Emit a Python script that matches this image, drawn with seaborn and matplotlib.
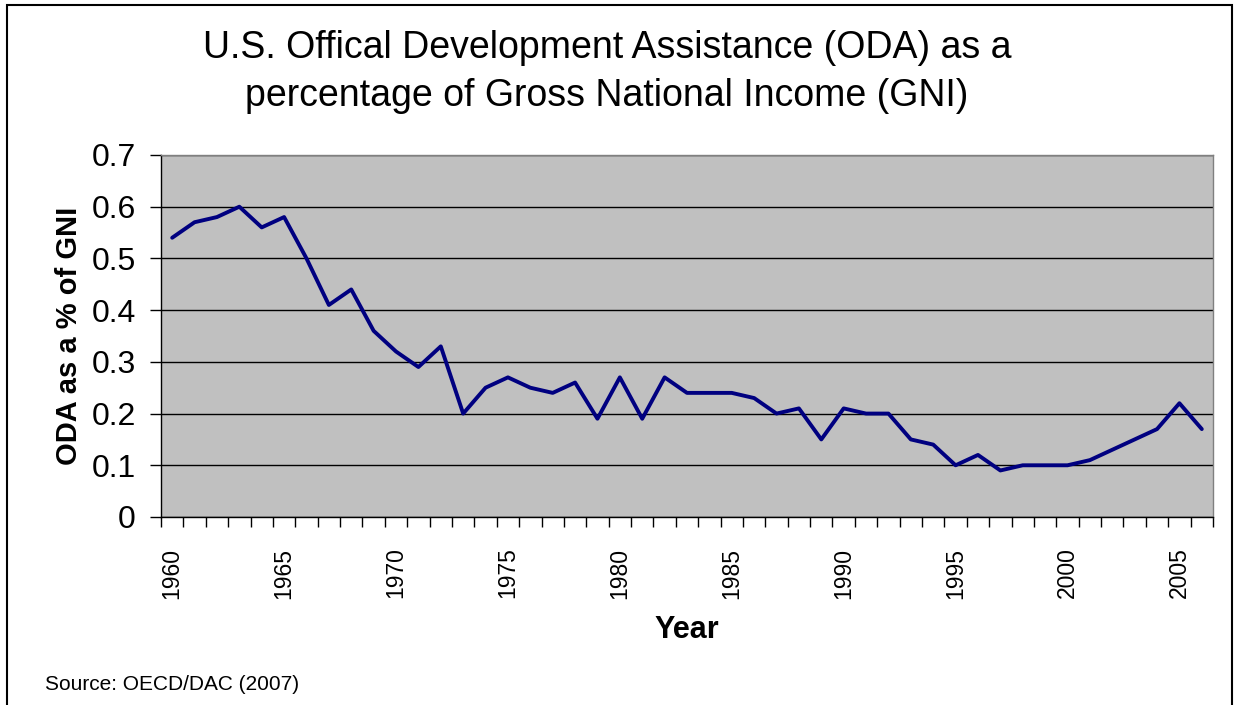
import matplotlib
matplotlib.use("Agg")
from matplotlib import pyplot as plt
from matplotlib.patches import Rectangle
from matplotlib.ticker import FixedLocator
import seaborn as sns
import pandas as pd

years = list(range(1960, 2007))
oda_pct = [0.54, 0.57, 0.58, 0.60, 0.56, 0.58, 0.50, 0.41, 0.44, 0.36,
           0.32, 0.29, 0.33, 0.20, 0.25, 0.27, 0.25, 0.24, 0.26, 0.19,
           0.27, 0.19, 0.27, 0.24, 0.24, 0.24, 0.23, 0.20, 0.21, 0.15,
           0.21, 0.20, 0.20, 0.15, 0.14, 0.10, 0.12, 0.09, 0.10, 0.10,
           0.10, 0.11, 0.13, 0.15, 0.17, 0.22, 0.17]
year_labels = [1960, 1965, 1970, 1975, 1980, 1985, 1990, 1995, 2000, 2005]
y_ticks = [0, 0.1, 0.2, 0.3, 0.4, 0.5, 0.6, 0.7]
y_tick_labels = ['0', '0.1', '0.2', '0.3', '0.4', '0.5', '0.6', '0.7']

df = pd.DataFrame({'year': years, 'oda': oda_pct})

sns.set_style('white')
plt.rcParams['font.family'] = ['Liberation Sans', 'DejaVu Sans']
plt.rcParams['text.color'] = 'black'
plt.rcParams['axes.labelcolor'] = 'black'
plt.rcParams['xtick.color'] = 'black'
plt.rcParams['ytick.color'] = 'black'

W, H = 1235, 705
fig = plt.figure(figsize=(W / 100, H / 100), dpi=100)
ax = fig.add_axes([161 / W, 1 - 517 / H, (1213 - 161) / W, (517 - 155) / H])

# outer frame of the chart
fig.patches.append(Rectangle((7 / W, -0.05), (1232 - 7) / W, 1 - 5 / H + 0.05,
                             transform=fig.transFigure, fill=False,
                             edgecolor='black', linewidth=1.5))

ax.set_facecolor('#C0C0C0')
sns.lineplot(data=df, x='year', y='oda', color='#000080', linewidth=2.8, ax=ax)

ax.set_xlim(years[0] - 0.5, years[-1] + 0.5)
ax.set_ylim(0, 0.7)
ax.yaxis.set_major_locator(FixedLocator(y_ticks))
ax.set_yticklabels(y_tick_labels)
ax.grid(axis='y', color='black', linewidth=1)
ax.set_axisbelow(True)

ax.xaxis.set_major_locator(FixedLocator(year_labels))
ax.xaxis.set_minor_locator(FixedLocator([y - 0.5 for y in years] + [years[-1] + 0.5]))
ax.set_xticklabels([str(y) for y in year_labels], rotation=90)
ax.tick_params(axis='x', which='major', length=0, pad=22, labelsize=16.5)
ax.tick_params(axis='x', which='minor', length=7, width=1, color='black', bottom=True)
ax.tick_params(axis='y', length=8, width=1, color='black', left=True, labelsize=23, pad=10)

for name, spine in ax.spines.items():
    spine.set_color('#808080')
    spine.set_linewidth(1)
ax.spines['left'].set_color('black')
ax.spines['bottom'].set_color('black')

ax.set_xlabel('Year', fontsize=22, fontweight='bold', labelpad=12)
ax.set_ylabel('ODA as a % of GNI', fontsize=21, fontweight='bold', labelpad=6)

fig.text(607 / W, 1 - 72 / H,
         'U.S. Offical Development Assistance (ODA) as a\npercentage of Gross National Income (GNI)',
         ha='center', va='center', fontsize=27, linespacing=1.4)
fig.text(45 / W, 1 - 684 / H, 'Source: OECD/DAC (2007)', ha='left', va='center', fontsize=15)

fig.savefig('out.png', dpi=100)
